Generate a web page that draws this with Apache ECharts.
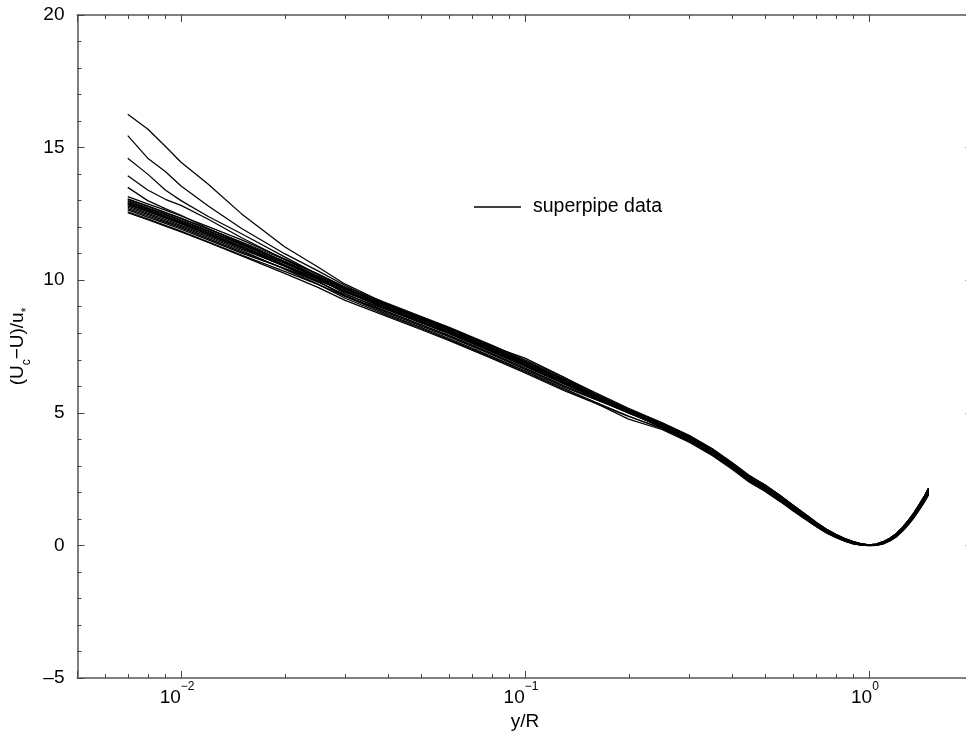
<!DOCTYPE html>
<html>
<head>
<meta charset="utf-8">
<script src="https://cdn.jsdelivr.net/npm/echarts@6/dist/echarts.min.js"></script>
<style>
html,body{margin:0;padding:0;background:#fff;}
#c{width:966px;height:731px;}
</style>
</head>
<body>
<div id="c"></div>
<script>
// y/R sample points: head part (wall / log region) and tail part (core, mirrored past centre)
const yRHead = [0.007,0.008,0.009,0.01,0.012,0.015,0.02,0.025,0.03,0.04,0.05,0.06,0.08,0.1,0.13,0.16,0.2,0.25,0.3,0.35,0.4,0.45];
const yRTail = [0.5,0.55,0.6,0.65,0.7,0.75,0.8,0.85,0.9,0.95,1.0,1.05,1.1,1.15,1.2,1.25,1.3,1.35,1.4,1.45,1.49];

// core-region values (slightly different traces)
const tailHi2 = [2.27,1.89,1.52,1.19,0.88,0.62,0.42,0.26,0.14,0.06,0.02,0.05,0.14,0.27,0.44,0.67,0.93,1.22,1.54,1.86,2.15];
const tailHi  = [2.21,1.84,1.47,1.15,0.84,0.59,0.39,0.24,0.12,0.05,0.01,0.04,0.12,0.25,0.41,0.64,0.89,1.18,1.49,1.81,2.09];
const tailMid = [2.15,1.78,1.42,1.1,0.8,0.55,0.36,0.21,0.1,0.03,0.0,0.02,0.1,0.22,0.38,0.6,0.85,1.13,1.44,1.75,2.03];
const tailLo  = [2.09,1.72,1.37,1.05,0.76,0.52,0.33,0.19,0.08,0.02,0.0,0.01,0.08,0.2,0.35,0.57,0.81,1.09,1.39,1.7,1.97];
const tailLo2 = [2.03,1.67,1.32,1.01,0.72,0.48,0.3,0.16,0.06,0.01,-0.01,0.0,0.06,0.17,0.32,0.53,0.77,1.04,1.34,1.64,1.91];

// upper (low-Re) curves, head part
const upperA = [16.26,15.7,15.05,14.45,13.62,12.5,11.26,10.5,9.85,9.08,8.6,8.2,7.52,6.96,6.28,5.72,5.14,4.6,4.12,3.62,3.1,2.6];
const upperB = [15.45,14.6,14.1,13.55,12.8,11.95,11.0,10.35,9.8,9.0,8.52,8.1,7.4,6.84,6.16,5.62,5.05,4.54,4.06,3.56,3.04,2.54];
const upperC = [14.6,14.0,13.4,13.0,12.4,11.75,10.88,10.22,9.72,8.94,8.45,8.05,7.37,6.81,6.13,5.59,5.03,4.51,4.03,3.53,3.01,2.51];
const upperD = [13.94,13.4,13.05,12.82,12.3,11.6,10.78,10.14,9.64,8.9,8.42,8.02,7.34,6.79,6.11,5.57,5.01,4.5,4.02,3.52,3.0,2.5];
const upperE = [13.5,13.0,12.7,12.45,11.95,11.4,10.7,10.1,9.6,8.88,8.4,8.0,7.32,6.77,6.1,5.56,5.0,4.49,4.01,3.51,2.99,2.49];

// collapsed bundle curves, head part
const bundle01 = [13.15,12.88,12.64,12.42,12.02,11.52,10.81,10.22,9.68,9.01,8.52,8.12,7.44,6.89,6.22,5.68,5.11,4.6,4.12,3.62,3.1,2.6];
const bundle02 = [13.07,12.8,12.56,12.34,11.94,11.44,10.78,10.24,9.74,9.12,8.63,8.23,7.55,7.0,6.33,5.76,5.17,4.63,4.15,3.65,3.13,2.63];
const bundle03 = [13.05,12.78,12.54,12.32,11.92,11.42,10.68,10.07,9.5,8.8,8.31,7.91,7.23,6.68,6.01,5.52,5.01,4.55,4.07,3.57,3.05,2.55];
const bundle04 = [13.0,12.73,12.49,12.27,11.87,11.37,10.71,10.16,9.67,9.04,8.55,8.15,7.47,6.92,6.25,5.64,5.02,4.44,3.96,3.46,2.94,2.44];
const bundle05 = [12.97,12.7,12.46,12.24,11.84,11.34,10.65,10.08,9.55,8.9,8.41,8.01,7.33,6.78,6.11,5.61,5.08,4.61,4.13,3.63,3.11,2.61];
const bundle06 = [12.93,12.66,12.42,12.2,11.8,11.3,10.57,9.96,9.39,8.7,8.21,7.81,7.13,6.58,5.91,5.4,4.88,4.4,3.92,3.42,2.9,2.4];
const bundle07 = [12.9,12.63,12.39,12.17,11.77,11.27,10.64,10.13,9.67,9.08,8.59,8.19,7.51,7.06,6.34,5.7,5.09,4.53,4.05,3.55,3.03,2.53];
const bundle08 = [12.87,12.6,12.36,12.14,11.74,11.24,10.58,10.05,9.56,8.94,8.45,8.05,7.37,6.82,6.15,5.59,5.0,4.47,3.99,3.49,2.97,2.47];
const bundle09 = [12.85,12.58,12.34,12.12,11.72,11.22,10.52,9.95,9.42,8.76,8.27,7.87,7.19,6.64,5.97,5.5,5.02,4.58,4.1,3.6,3.08,2.58];
const bundle10 = [12.8,12.53,12.29,12.07,11.67,11.17,10.54,10.03,9.57,8.98,8.49,8.09,7.41,6.86,6.19,5.62,5.04,4.5,4.02,3.52,3.0,2.5];
const bundle11 = [12.75,12.48,12.24,12.02,11.62,11.12,10.42,9.85,9.32,8.66,8.17,7.77,7.09,6.54,5.87,5.37,4.76,4.37,3.89,3.39,2.87,2.37];
const bundle12 = [12.7,12.43,12.19,11.97,11.57,11.07,10.44,9.93,9.46,8.87,8.38,7.98,7.3,6.75,6.08,5.57,5.04,4.56,4.08,3.58,3.06,2.56];
const bundle13 = [12.65,12.38,12.14,11.92,11.52,11.02,10.44,9.99,9.58,9.04,8.55,8.15,7.47,6.92,6.25,5.65,5.02,4.45,3.97,3.47,2.95,2.45];
const bundle14 = [12.58,12.31,12.07,11.85,11.45,10.95,10.33,9.84,9.39,8.81,8.32,7.92,7.24,6.69,6.02,5.52,4.99,4.52,4.04,3.54,3.02,2.52];
const bundle15 = [12.55,12.28,12.04,11.82,11.42,10.92,10.26,9.73,9.24,8.62,8.13,7.73,7.05,6.5,5.83,5.36,4.86,4.42,3.94,3.44,2.92,2.42];

// each curve: [head values, core values]
const curves = [
  [upperA, tailHi2], [upperB, tailHi], [upperC, tailMid], [upperD, tailMid], [upperE, tailLo],
  [bundle01, tailHi2], [bundle02, tailHi2], [bundle03, tailHi], [bundle04, tailLo], [bundle05, tailHi2],
  [bundle06, tailLo2], [bundle07, tailMid], [bundle08, tailMid], [bundle09, tailHi], [bundle10, tailMid],
  [bundle11, tailLo2], [bundle12, tailHi], [bundle13, tailLo], [bundle14, tailMid], [bundle15, tailLo]
];

// axes
const xRange = [0.005, 2];
const yRange = [-5, 20];
const yTickLabels = [-5, 0, 5, 10, 15, 20];
const xTickExponents = [-2, -1, 0];
const xMinorTicks = [0.006,0.007,0.008,0.009,0.02,0.03,0.04,0.05,0.06,0.07,0.08,0.09,0.2,0.3,0.4,0.5,0.6,0.7,0.8,0.9];

const FONT = '"Liberation Sans", Arial, Helvetica, sans-serif';
const AXIS_COLOR = '#808080';
const TICK_COLOR = '#444';

const chart = echarts.init(document.getElementById('c'), null, {renderer: 'canvas'});

const lineSeries = curves.map(([head, tail]) => ({
  name: 'superpipe data',
  type: 'line',
  data: yRHead.map((x, i) => [x, head[i]]).concat(yRTail.map((x, i) => [x, tail[i]])),
  symbol: 'none',
  showSymbol: false,
  lineStyle: {color: '#000', width: 1.25},
  itemStyle: {color: '#000'},
  silent: true,
  z: 3
}));

const minorSeries = {
  name: 'minor',
  type: 'custom',
  silent: true,
  z: 5,
  data: xMinorTicks.map(v => [v, 0]),
  renderItem: function (params, api) {
    const x = api.value(0);
    const pb = api.coord([x, yRange[0]]);
    const pt = api.coord([x, yRange[1]]);
    const px = Math.round(pb[0]) + 0.5;
    return {
      type: 'group',
      children: [
        {type: 'line', shape: {x1: px, y1: pb[1], x2: px, y2: pb[1] - 4}, style: {stroke: TICK_COLOR, lineWidth: 1}},
        {type: 'line', shape: {x1: px, y1: pt[1], x2: px, y2: pt[1] + 4}, style: {stroke: TICK_COLOR, lineWidth: 1}}
      ]
    };
  }
};

function xLabel(v) {
  const e = Math.log10(v);
  const r = Math.round(e);
  if (Math.abs(e - r) > 1e-6 || xTickExponents.indexOf(r) < 0) return '';
  return '{b|10}{e|' + (r < 0 ? '\u2212' + (-r) : String(r)) + '}';
}
function yLabel(v) {
  if (yTickLabels.indexOf(v) < 0) return '';
  return v < 0 ? '\u2013' + (-v) : String(v);
}

const option = {
  backgroundColor: '#fff',
  animation: false,
  textStyle: {fontFamily: FONT},
  grid: {left: 77.5, top: 15, width: 895, height: 663, containLabel: false, outerBoundsMode: 'none'},
  legend: {
    data: ['superpipe data'],
    left: 469,
    top: 191,
    icon: 'rect',
    itemWidth: 47,
    itemHeight: 1.4,
    selectedMode: false,
    textStyle: {fontSize: 19.5, color: '#000', fontFamily: FONT, padding: [0, 0, 0, 7], lineHeight: 22}
  },
  xAxis: [
    {
      type: 'log', logBase: 10, min: xRange[0], max: xRange[1],
      position: 'bottom',
      name: 'y/R', nameLocation: 'middle', nameGap: 31,
      nameTextStyle: {fontSize: 19, color: '#000', fontFamily: FONT},
      axisLine: {show: true, onZero: false, lineStyle: {color: AXIS_COLOR, width: 2}},
      axisTick: {show: true, inside: true, length: 7, lineStyle: {color: TICK_COLOR, width: 1}},
      axisLabel: {
        show: true, margin: 3, formatter: xLabel,
        rich: {
          b: {fontSize: 19, lineHeight: 26, verticalAlign: 'bottom', color: '#000', fontFamily: FONT},
          e: {fontSize: 12, lineHeight: 12, verticalAlign: 'top', color: '#000', fontFamily: FONT, padding: [0, 8, 0, 0]}
        }
      },
      splitLine: {show: false}
    },
    {
      type: 'log', logBase: 10, min: xRange[0], max: xRange[1],
      position: 'top',
      axisLine: {show: true, onZero: false, lineStyle: {color: AXIS_COLOR, width: 2}},
      axisTick: {show: true, inside: true, length: 7, lineStyle: {color: TICK_COLOR, width: 1}},
      axisLabel: {show: false},
      splitLine: {show: false}
    }
  ],
  yAxis: [
    {
      type: 'value', min: yRange[0], max: yRange[1], interval: 5,
      position: 'left',
      name: '{m|(U}{s|c}{m|\u2212U)/u}{s|*}',
      nameLocation: 'middle', nameGap: 40, nameRotate: 90,
      nameTextStyle: {
        fontSize: 19, color: '#000', fontFamily: FONT,
        rich: {
          m: {fontSize: 19, lineHeight: 24, verticalAlign: 'top', color: '#000', fontFamily: FONT},
          s: {fontSize: 12, lineHeight: 24, verticalAlign: 'bottom', color: '#000', fontFamily: FONT}
        }
      },
      axisLine: {show: true, onZero: false, lineStyle: {color: AXIS_COLOR, width: 2}},
      axisTick: {show: true, inside: true, length: 7, lineStyle: {color: TICK_COLOR, width: 1}},
      minorTick: {show: true, splitNumber: 5, length: 4, lineStyle: {color: TICK_COLOR, width: 1}},
      axisLabel: {show: true, margin: 13, fontSize: 19, color: '#000', fontFamily: FONT, formatter: yLabel},
      splitLine: {show: false},
      minorSplitLine: {show: false}
    },
    {
      type: 'value', min: yRange[0], max: yRange[1], interval: 5,
      position: 'right',
      axisLine: {show: true, onZero: false, lineStyle: {color: AXIS_COLOR, width: 2}},
      axisTick: {show: true, inside: true, length: 7, lineStyle: {color: TICK_COLOR, width: 1}},
      minorTick: {show: true, splitNumber: 5, length: 4, lineStyle: {color: TICK_COLOR, width: 1}},
      axisLabel: {show: false},
      splitLine: {show: false}
    }
  ],
  series: lineSeries.concat([minorSeries])
};

chart.setOption(option);
</script>
</body>
</html>
